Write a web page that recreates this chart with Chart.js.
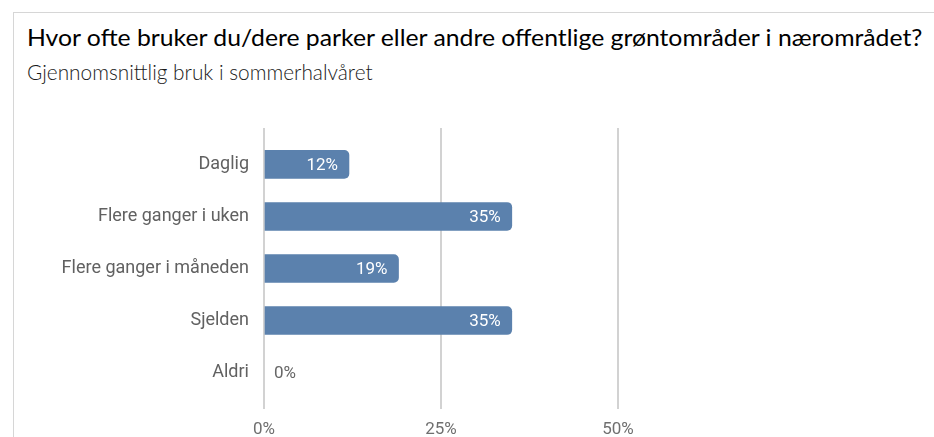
<!DOCTYPE html>
<html>
<head>
<meta charset="utf-8">
<script src="https://cdn.jsdelivr.net/npm/chart.js@4"></script>
<style>
  html, body { margin: 0; padding: 0; background: #fff; }
  #wrap { position: relative; width: 934px; height: 437px; overflow: hidden; }
  #frame { position: absolute; left: 13px; top: 12px; width: 940px; height: 440px;
           border-left: 1px solid #d6d6d6; border-top: 1px solid #d6d6d6; }
  #title { position: absolute; left: 27px; top: 25px; font-family: Lato, sans-serif;
           font-size: 24px; line-height: 1; color: #000; white-space: nowrap; transform-origin: 0 0; }
  #subtitle { position: absolute; left: 27px; top: 61px; font-family: Lato, sans-serif;
              font-weight: 300; font-size: 21px; line-height: 1; color: #1a1a1a; white-space: nowrap; transform-origin: 0 0; }
  canvas { position: absolute; left: 0; top: 0; }
</style>
</head>
<body>
<div id="wrap">
  <div id="frame"></div>
  <div id="title">Hvor ofte bruker du/dere parker eller andre offentlige grøntområder i nærområdet?</div>
  <div id="subtitle">Gjennomsnittlig bruk i sommerhalvåret</div>
  <canvas id="chart" width="934" height="437"></canvas>
</div>
<script>
var categories = ["Daglig", "Flere ganger i uken", "Flere ganger i måneden", "Sjelden", "Aldri"];
var values = [12, 35, 19, 35, 0];
var xTicks = [0, 25, 50];

// squeeze the headings to the width they have in the picture
function fitWidth(id, w) {
    var el = document.getElementById(id);
    el.style.transform = "scaleX(" + (w / el.offsetWidth) + ")";
}

var points = [];
for (var i = 0; i < values.length; ++i) {
    points.push({ x: values[i], y: i });
}

var barLabels = {
    id: "barLabels",
    afterDatasetsDraw: function (chart) {
        var ctx = chart.ctx;
        var meta = chart.getDatasetMeta(0);
        ctx.save();
        ctx.font = "17px Roboto";
        ctx.textBaseline = "middle";
        meta.data.forEach(function (bar, i) {
            var text = values[i] + "%";
            if (values[i] > 5) {
                ctx.fillStyle = "#ffffff";
                ctx.textAlign = "right";
                ctx.fillText(text, bar.x - 11, bar.y + 1);
            } else {
                ctx.fillStyle = "#666666";
                ctx.textAlign = "left";
                ctx.fillText(text, bar.x + 10, bar.y + 1);
            }
        });
        ctx.restore();
    }
};

function draw() {
    fitWidth("title", 895);
    fitWidth("subtitle", 346);

    new Chart(document.getElementById("chart"), {
        type: "bar",
        data: {
            datasets: [{
                data: points,
                backgroundColor: values.map(function (v) { return v > 0 ? "#5b81ad" : "rgba(0,0,0,0)"; }),
                borderRadius: 5,
                borderSkipped: "start",
                barThickness: 28
            }]
        },
        options: {
            indexAxis: "y",
            responsive: false,
            animation: false,
            layout: { padding: { left: 0, right: 316, top: 128, bottom: 0 } },
            plugins: { legend: { display: false }, tooltip: { enabled: false } },
            scales: {
                x: {
                    type: "linear",
                    min: 0,
                    max: 50,
                    afterBuildTicks: function (scale) {
                        scale.ticks = xTicks.map(function (v) { return { value: v }; });
                    },
                    afterFit: function (scale) { scale.height = 28; },
                    grid: { color: "#d2d2d2", lineWidth: 2, drawTicks: false },
                    border: { display: false },
                    ticks: {
                        padding: 11,
                        color: "#6f6f6f",
                        font: { family: "Roboto", size: 17 },
                        callback: function (v) { return v + "%"; }
                    }
                },
                y: {
                    type: "linear",
                    reverse: true,
                    offset: false,
                    min: -0.7,
                    max: 4.7,
                    afterBuildTicks: function (scale) {
                        scale.ticks = categories.map(function (c, i) { return { value: i }; });
                    },
                    afterFit: function (scale) { scale.width = 264; },
                    grid: { display: false, drawTicks: false },
                    border: { display: false },
                    ticks: {
                        padding: 15,
                        color: "#616161",
                        font: { family: "Roboto", size: 18 },
                        callback: function (v) { return categories[v]; }
                    }
                }
            }
        },
        plugins: [barLabels]
    });
}

Promise.all([
    document.fonts.load("17px Roboto"),
    document.fonts.load("24px Lato"),
    document.fonts.load("300 21px Lato")
]).then(draw, draw);
</script>
</body>
</html>
